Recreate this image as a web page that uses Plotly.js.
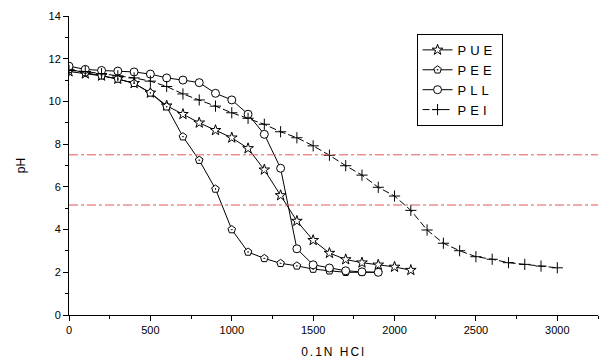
<!DOCTYPE html>
<html><head><meta charset="utf-8">
<script src="https://cdn.plot.ly/plotly-3.0.1.min.js"></script>
<style>html,body{margin:0;padding:0;background:#fff}#c{width:607px;height:360px}
.legendtext{letter-spacing:4px}.xtitle{letter-spacing:2px}</style>
</head><body><div id="c"></div>
<script>
const hcl = [0,100,200,300,400,500,600,700,800,900,1000,1100,1200,1300,1400,1500,1600,1700,1800,1900,2000,2100,2200,2300,2400,2500,2600,2700,2800,2900,3000];
const pueX = hcl.slice(0,22);
const pueY = [11.4,11.3,11.2,11.05,10.85,10.4,9.8,9.4,9.0,8.65,8.3,7.8,6.8,5.6,4.4,3.5,2.9,2.6,2.45,2.35,2.25,2.1];
const peeX = hcl.slice(0,20);
const peeY = [11.5,11.35,11.2,11.05,10.85,10.4,9.75,8.35,7.25,5.9,4.0,2.95,2.65,2.42,2.3,2.15,2.07,2.0,2.0,2.0];
const pllX = hcl.slice(0,20);
const pllY = [11.65,11.5,11.45,11.42,11.38,11.28,11.1,11.0,10.88,10.38,10.07,9.4,8.46,6.87,3.1,2.35,2.2,2.07,2.02,2.0];
const peiX = hcl.slice(0,31);
const peiY = [11.45,11.4,11.3,11.2,11.1,10.95,10.7,10.35,10.07,9.78,9.47,9.21,8.93,8.58,8.3,7.92,7.48,6.99,6.55,5.98,5.57,4.9,3.98,3.36,3.01,2.73,2.61,2.45,2.37,2.29,2.21];
const refLevels = [7.5, 5.15];
const seriesNames = ['PUE','PEE','PLL','PEI'];

const mk = (sym, size) => ({symbol: sym, size: size, color: '#fff', line: {color: '#000', width: 1}});
const traces = [
  {x: pueX, y: pueY, name: seriesNames[0], mode: 'lines+markers', line: {color: '#000', width: 1}, marker: mk('star', 8)},
  {x: peeX, y: peeY, name: seriesNames[1], mode: 'lines+markers', line: {color: '#000', width: 1}, marker: mk('pentagon-dot', 8)},
  {x: pllX, y: pllY, name: seriesNames[2], mode: 'lines+markers', line: {color: '#000', width: 1}, marker: mk('circle', 8)},
  {x: peiX, y: peiY, name: seriesNames[3], mode: 'lines+markers', line: {color: '#000', width: 1, dash: '7px,3px'}, marker: {symbol: 'cross-thin-open', size: 8, color: '#000', line: {color: '#000', width: 1}}}
];
const shapes = refLevels.map(v => ({type: 'line', xref: 'paper', x0: 0, x1: 1, yref: 'y', y0: v, y1: v, line: {color: '#e8555a', width: 1, dash: 'dashdot'}}));
const axisCommon = {showgrid: false, zeroline: false, showline: true, linecolor: '#000', linewidth: 1, ticks: 'outside', ticklen: 5, tickcolor: '#000', tickfont: {family: 'Liberation Sans, Arial', size: 11, color: '#000'}};
const layout = {
  width: 607, height: 360,
  margin: {l: 69, r: 9, t: 16, b: 45},
  paper_bgcolor: '#fff', plot_bgcolor: '#fff',
  font: {family: 'Liberation Sans, Arial', color: '#000'},
  xaxis: Object.assign({}, axisCommon, {range: [0, 3250], tickvals: [0,500,1000,1500,2000,2500,3000], minor: {dtick: 250, ticks: 'outside', ticklen: 3, tickcolor: '#000'}, title: {text: '0.1N HCl', font: {size: 12}, standoff: 12}}),
  yaxis: Object.assign({}, axisCommon, {range: [0, 14], dtick: 2, minor: {dtick: 1, ticks: 'outside', ticklen: 3, tickcolor: '#000'}, title: {text: 'pH', font: {size: 12}, standoff: 20}}),
  shapes: shapes,
  showlegend: true,
  legend: {x: 0.657, y: 0.94, xanchor: 'left', yanchor: 'top', bgcolor: '#fff', bordercolor: '#000', borderwidth: 1, font: {size: 13}, tracegroupgap: 0, itemwidth: 30}
};
Plotly.newPlot('c', traces, layout, {staticPlot: true, displayModeBar: false});
</script></body></html>
